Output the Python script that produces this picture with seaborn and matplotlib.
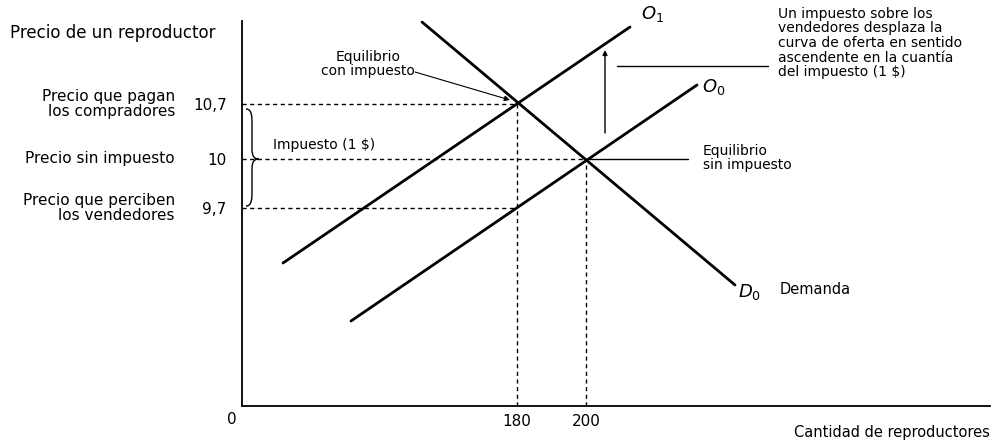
import numpy as np
import pandas as pd
import seaborn as sns
import matplotlib.pyplot as plt
from matplotlib.path import Path
from matplotlib.patches import PathPatch

# schematic diagram (not to scale): quantity / price in diagram units
supply0_q = [109, 455]
supply0_p = [85, 321]
supply1_q = [41, 388]
supply1_p = [143, 379]
demand_q = [180, 493]
demand_p = [384, 121]

q_ticks = [275, 344]
q_labels = ["180", "200"]
p_ticks = [198, 247, 302]
p_labels = ["9,7", "10", "10,7"]
p_names = ["Precio que perciben\nlos vendedores", "Precio sin impuesto",
           "Precio que pagan\nlos compradores"]
# where each price guide line ends (quantity)
p_guide_end = [275, 344, 275]

sns.set_theme(style="white")
plt.rcParams['font.family'] = ['DejaVu Sans']
plt.rcParams['mathtext.fontset'] = 'dejavusans'
plt.rcParams['text.color'] = 'black'

fig = plt.figure(figsize=(9.94, 4.42), dpi=100)
ax = fig.add_axes([242 / 994, 36 / 442, 748 / 994, 385 / 442])

curves = pd.concat([
    pd.DataFrame({'q': supply0_q, 'p': supply0_p, 'curva': 'O0'}),
    pd.DataFrame({'q': supply1_q, 'p': supply1_p, 'curva': 'O1'}),
    pd.DataFrame({'q': demand_q, 'p': demand_p, 'curva': 'D0'}),
])
sns.lineplot(data=curves, x='q', y='p', units='curva', estimator=None,
             color='black', lw=2.0, sort=False, ax=ax)

# dashed guides
dash = dict(color='black', lw=1.0, linestyle=(0, (3, 2.5)))
for p, q in zip(p_ticks, p_guide_end):
    ax.plot([0, q], [p, p], **dash)
ax.plot([q_ticks[0], q_ticks[0]], [0, p_ticks[2]], **dash)
ax.plot([q_ticks[1], q_ticks[1]], [0, p_ticks[1]], **dash)

ax.set_xlim(0, 748)
ax.set_ylim(0, 385)
ax.set_xticks(q_ticks, q_labels)
ax.set_yticks(p_ticks, p_labels)
ax.tick_params(axis='both', length=0, labelsize=11, colors='black')
ax.tick_params(axis='y', pad=11)
ax.tick_params(axis='x', pad=6)
for s in ['top', 'right']:
    ax.spines[s].set_visible(False)
for s in ['left', 'bottom']:
    ax.spines[s].set_color('black')
    ax.spines[s].set_linewidth(1.3)
ax.set_xlabel('')
ax.set_ylabel('')

# price labels on the left
for p, name in zip(p_ticks, p_names):
    ax.text(-67, p, name, ha='right', va='center', fontsize=11,
            linespacing=1.0, clip_on=False)
ax.text(-232, 373, "Precio de un reproductor", ha='left', va='center',
        fontsize=12, clip_on=False)
ax.text(-10, -14, "0", ha='center', va='center', fontsize=11, clip_on=False)
ax.text(748, -27, "Cantidad de reproductores", ha='right', va='center',
        fontsize=10.5, clip_on=False)

# brace for the tax
x0, xm, xt = 4, 10, 17
yt, ym, yb = 297, 247, 200
verts = [(x0, yt), (xm, yt), (xm, yt - 8), (xm, yt - 15),
         (xm, ym + 10),
         (xm, ym + 3), (xm + 2, ym), (xt, ym),
         (xm + 2, ym), (xm, ym - 3), (xm, ym - 10),
         (xm, yb + 15),
         (xm, yb + 8), (xm, yb), (x0, yb)]
codes = [Path.MOVETO, Path.CURVE4, Path.CURVE4, Path.CURVE4,
         Path.LINETO,
         Path.CURVE4, Path.CURVE4, Path.CURVE4,
         Path.CURVE4, Path.CURVE4, Path.CURVE4,
         Path.LINETO,
         Path.CURVE4, Path.CURVE4, Path.CURVE4]
ax.add_patch(PathPatch(Path(verts, codes), fill=False, lw=1.0, color='black'))
ax.text(31, 261, r"Impuesto (1 \$)", ha='left', va='center', fontsize=10)

# curve labels
ax.text(399, 392, r"$O_1$", fontsize=13, ha='left', va='center', clip_on=False)
ax.text(460, 319, r"$O_0$", fontsize=13, ha='left', va='center')
ax.text(496, 114, r"$D_0$", fontsize=13, ha='left', va='center')
ax.text(538, 116, "Demanda", fontsize=10.5, ha='left', va='center')

# equilibrium with tax
ax.text(126, 342, "Equilibrio\ncon impuesto", ha='center', va='center',
        fontsize=10, linespacing=1.0)
ax.annotate("", xy=(268, 306), xytext=(173, 334),
            arrowprops=dict(arrowstyle='-|>', color='black', lw=0.8,
                            mutation_scale=8, shrinkA=0, shrinkB=0))

# equilibrium without tax
ax.plot([345, 446], [247, 247], color='black', lw=1.0)
ax.text(461, 248, "Equilibrio\nsin impuesto", ha='left', va='center',
        fontsize=10, linespacing=1.05)

# shift arrow and note
ax.annotate("", xy=(363, 356), xytext=(363, 273),
            arrowprops=dict(arrowstyle='-|>', color='black', lw=1.0,
                            mutation_scale=7, shrinkA=0, shrinkB=0))
ax.plot([375, 526], [340, 340], color='black', lw=1.0)
ax.text(536, 363, "Un impuesto sobre los\nvendedores desplaza la\n"
        "curva de oferta en sentido\nascendente en la cuantía\n"
        r"del impuesto (1 \$)", ha='left', va='center', fontsize=10,
        linespacing=1.05, clip_on=False)

fig.savefig('out.png', dpi=100, facecolor='white')
